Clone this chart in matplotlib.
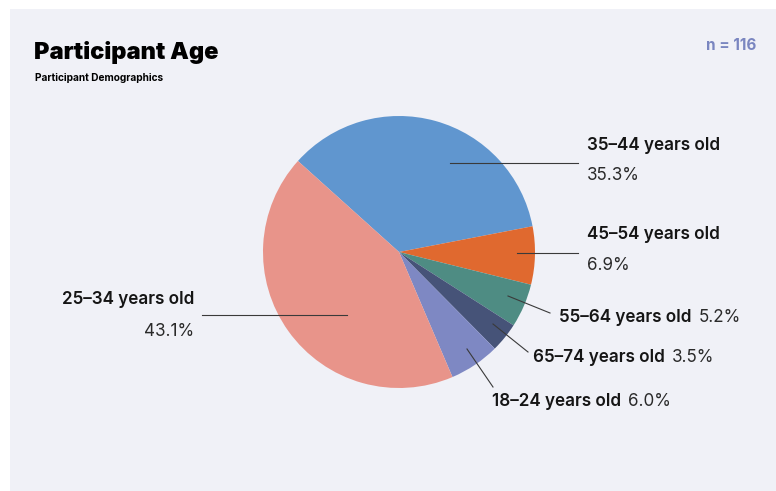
import matplotlib.pyplot as plt
from matplotlib.patches import Rectangle
from matplotlib.lines import Line2D

# data
groups = ["35–44 years old", "45–54 years old", "55–64 years old",
          "65–74 years old", "18–24 years old", "25–34 years old"]
shares = [35.3, 6.9, 5.2, 3.5, 6.0, 43.1]
colors = ["#6096cf", "#e0692f", "#4e8c83", "#465378", "#7e88c3", "#e8948a"]

plt.rcParams['font.family'] = ['Inter', 'DejaVu Sans']

W, H = 776, 491
fig = plt.figure(figsize=(W / 100, H / 100), dpi=100)
fig.patch.set_facecolor("white")


def fx(px):
    return px / W


def fy(py):
    return 1 - py / H


# panel background
fig.patches.append(Rectangle((fx(10), 0), 1 - fx(10), fy(9), transform=fig.transFigure,
                             facecolor="#f0f1f7", edgecolor="none", zorder=-5))

# pie axes: centre (399, 252), radius 136 px
cx, cy, r = 399, 252, 136
ax = fig.add_axes([fx(cx - r), fy(cy + r), 2 * r / W, 2 * r / H])
ax.set_zorder(1)
ax.pie(shares, colors=colors, startangle=138, counterclock=False,
       wedgeprops=dict(linewidth=0))
ax.set_xlim(-1, 1)
ax.set_ylim(-1, 1)
ax.set_aspect("equal")
ax.axis("off")

# label layout (pixels): line start, line end, text pos, style
# 'stack' = name over value, 'inline' = name then value on one line
layout = [
    ((450, 163), (578, 163), (587, 145), "stack", "left"),
    ((517, 253), (578, 253), (587, 235), "stack", "left"),
    ((508, 296), (550, 313), (559, 317), "inline", "left"),
    ((493, 324), (528, 352), (533, 358), "inline", "left"),
    ((467, 349), (493, 387), (492, 402), "inline", "left"),
    ((347, 315), (202, 315), (194, 300), "stack", "right"),
]

lab_fs = 12.3
dark = "#151515"
for g, s, (p0, p1, tp, mode, ha) in zip(groups, shares, layout):
    fig.add_artist(Line2D([fx(p0[0]), fx(p1[0])], [fy(p0[1]), fy(p1[1])],
                          color="#3a3a3a", lw=0.8, zorder=5))
    pct = f"{s:.1f}%"
    if mode == "stack":
        fig.text(fx(tp[0]), fy(tp[1]), g, ha=ha, va="center", fontsize=lab_fs,
                 fontweight="semibold", color=dark)
        fig.text(fx(tp[0]), fy(tp[1] + 31), pct, ha=ha, va="center",
                 fontsize=lab_fs, color="#2a2a2a")
    else:
        t = fig.text(fx(tp[0]), fy(tp[1]), g, ha="left", va="center",
                     fontsize=lab_fs, fontweight="semibold", color=dark)
        fig.canvas.draw()
        bb = t.get_window_extent()
        fig.text(bb.x1 / W + fx(7), fy(tp[1]), pct, ha="left", va="center",
                 fontsize=lab_fs, color="#2a2a2a")

# titles
fig.text(fx(34), fy(53), "Participant Age", ha="left", va="center",
         fontsize=17, fontweight="black", color="black")
fig.text(fx(35), fy(78), "Participant Demographics", ha="left", va="center",
         fontsize=7.3, fontweight="bold", color="black")
fig.text(fx(756), fy(45), "n = 116", ha="right", va="center",
         fontsize=11, fontweight="bold", color="#7a86c0")

fig.savefig("out.png", dpi=100)
